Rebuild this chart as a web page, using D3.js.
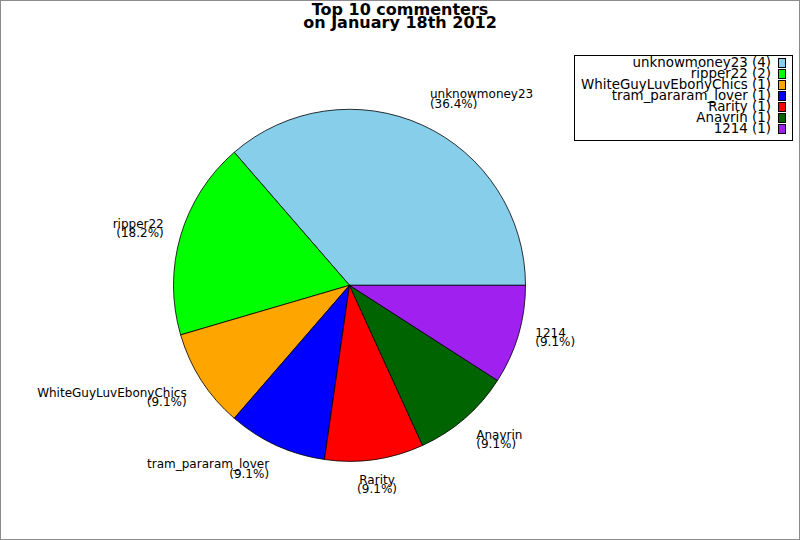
<!DOCTYPE html>
<html>
<head>
<meta charset="utf-8">
<script src="https://cdn.jsdelivr.net/npm/d3@7"></script>
<style>
  body { margin: 0; background: #fff; }
  text { font-family: "DejaVu Sans", sans-serif; fill: #000; }
</style>
</head>
<body>
<svg width="800" height="540"></svg>
<script>
// commenters and their comment counts
var names = ['unknowmoney23', 'ripper22', 'WhiteGuyLuvEbonyChics', 'tram_pararam_lover', 'Rarity', 'Anavrin', '1214'];
var counts = [4, 2, 1, 1, 1, 1, 1];
var colors = ['#87ceeb', '#00ff00', '#ffa500', '#0000ff', '#ff0000', '#006400', '#a020f0'];
var titleLines = ['Top 10 commenters', 'on January 18th 2012'];

var svg = d3.select('svg');
var svgWidth = +svg.attr('width');
var svgHeight = +svg.attr('height');

var cx = 349.5, cy = 285.3, radius = 176;
var total = d3.sum(counts);

// outer frame
svg.append('rect')
    .attr('x', 0.5).attr('y', 0.5)
    .attr('width', svgWidth - 1).attr('height', svgHeight - 1)
    .attr('fill', 'none')
    .attr('stroke', '#8c8c8c');

// title
svg.append('text')
    .attr('text-anchor', 'middle')
    .style('font-size', '16px')
    .style('font-weight', 'bold')
    .selectAll('tspan')
    .data(titleLines)
    .enter()
    .append('tspan')
    .attr('x', 400)
    .attr('y', function (d, i) { return 15 + i * 13; })
    .text(function (d) { return d; });

// pie starts at 3 o'clock and runs counter-clockwise
var pie = d3.pie()
    .sort(null)
    .startAngle(Math.PI / 2)
    .endAngle(Math.PI / 2 - 2 * Math.PI);

var arcs = pie(counts);
var arc = d3.arc().innerRadius(0).outerRadius(radius);

var pieG = svg.append('g')
    .attr('transform', `translate(${cx}, ${cy})`);

pieG.selectAll('.slice')
    .data(arcs)
    .enter()
    .append('path')
    .attr('class', 'slice')
    .attr('d', arc)
    .attr('fill', function (d, i) { return colors[i]; })
    .attr('stroke', '#000')
    .attr('stroke-width', 0.8);

// labels sit just outside the rim, anchored by the side they face
var labelR = radius * 1.1;
var lim = Math.sin(Math.PI / 8);

var labels = pieG.selectAll('.slice-label')
    .data(arcs)
    .enter()
    .append('text')
    .attr('class', 'slice-label')
    .style('font-size', '12px')
    .attr('text-anchor', function (d) {
        var a = (d.startAngle + d.endAngle) / 2;
        var s = Math.sin(a);
        if (Math.abs(s) < lim) return 'middle';
        return s > 0 ? 'start' : 'end';
    });

labels.each(function (d, i) {
    var a = (d.startAngle + d.endAngle) / 2;
    var x = labelR * Math.sin(a);
    var y = -labelR * Math.cos(a);
    var c = Math.cos(a);
    var b1;
    if (Math.abs(c) < lim) b1 = y - 3;
    else if (c > 0) b1 = y - 11;
    else b1 = y + 7;
    var pct = (counts[i] / total * 100).toFixed(1);
    var t = d3.select(this);
    t.append('tspan').attr('x', x).attr('y', b1).text(names[i]);
    t.append('tspan').attr('x', x).attr('y', b1 + 9.5).text('(' + pct + '%)');
});

// legend
var legendG = svg.append('g').attr('class', 'legend');

legendG.append('rect')
    .attr('x', 574.5).attr('y', 55.5)
    .attr('width', 218).attr('height', 85)
    .attr('fill', '#fff')
    .attr('stroke', '#000');

var rows = legendG.selectAll('.legend-row')
    .data(names)
    .enter()
    .append('g')
    .attr('class', 'legend-row')
    .attr('transform', function (d, i) { return `translate(0, ${67 + i * 11})`; });

rows.append('text')
    .attr('x', 771)
    .attr('text-anchor', 'end')
    .style('font-size', '13.4px')
    .text(function (d, i) { return d + ' (' + counts[i] + ')'; });

rows.append('rect')
    .attr('x', 778.5).attr('y', -8.5)
    .attr('width', 7).attr('height', 9)
    .attr('fill', function (d, i) { return colors[i]; })
    .attr('stroke', '#000');
</script>
</body>
</html>
